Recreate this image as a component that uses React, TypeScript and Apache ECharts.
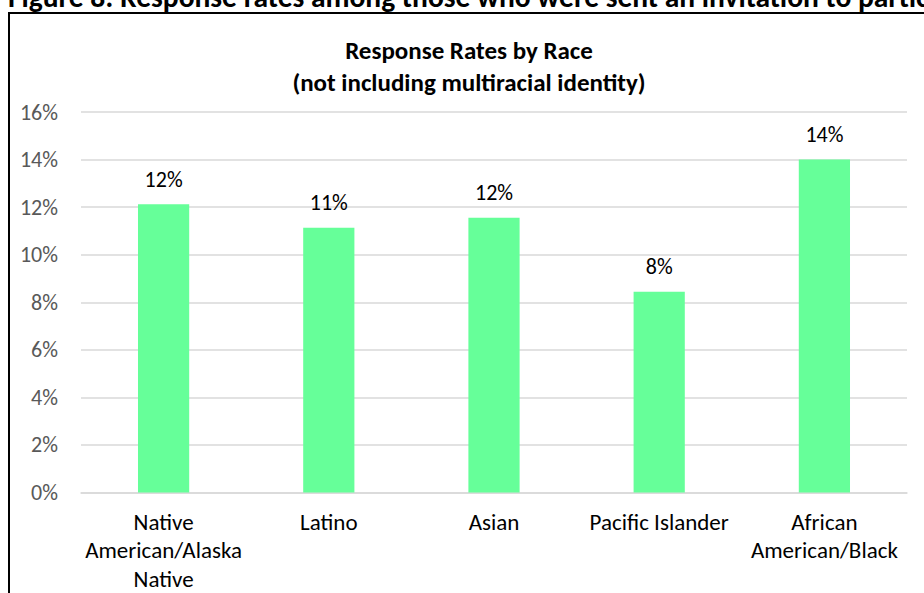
import React, { useEffect, useRef } from "react";
import * as echarts from "echarts";

const categories = [
  "Native\nAmerican/Alaska\nNative",
  "Latino",
  "Asian",
  "Pacific Islander",
  "African\nAmerican/Black",
];
const responseRates = [12.12, 11.13, 11.55, 8.44, 14.0];
const valueLabels = ["12%", "11%", "12%", "8%", "14%"];
const yTicks = [0, 2, 4, 6, 8, 10, 12, 14, 16];

const headerText =
  "Figure 8: Response rates among those who were sent an invitation to participate in the survey";
const titleLine1 = "Response Rates by Race";
const titleLine2 = "(not including multiracial identity)";

const FONT = "Carlito, Calibri, 'Liberation Sans Narrow', 'Open Sans', sans-serif";

export default function App() {
  const ref = useRef<HTMLDivElement>(null);
  useEffect(() => {
    if (!ref.current) return;
    const chart = echarts.init(ref.current, null, { renderer: "svg" });
    chart.setOption({
      animation: false,
      backgroundColor: "#ffffff",
      textStyle: { fontFamily: FONT },
      grid: { left: 81, right: 17, top: 112, bottom: 99, containLabel: false },
      graphic: [
        {
          type: "text",
          x: 8,
          y: -3,
          style: {
            text: headerText,
            font: `bold 29.5px ${FONT}`,
            fill: "#000",
            textVerticalAlign: "middle",
          },
        },
        {
          type: "rect",
          shape: { x: 9, y: 13, width: 960, height: 640 },
          style: { fill: "none", stroke: "#000", lineWidth: 2 },
        },
        {
          type: "text",
          x: 469,
          y: 50,
          style: {
            text: titleLine1,
            font: `bold 25px ${FONT}`,
            fill: "#000",
            textAlign: "center",
            textVerticalAlign: "middle",
          },
        },
        {
          type: "text",
          x: 469,
          y: 82,
          style: {
            text: titleLine2,
            font: `bold 25px ${FONT}`,
            fill: "#000",
            textAlign: "center",
            textVerticalAlign: "middle",
          },
        },
      ],
      xAxis: {
        type: "category",
        data: categories,
        axisLine: { show: true, lineStyle: { color: "#d9d9d9", width: 1.5 } },
        axisTick: { show: false },
        axisLabel: {
          interval: 0,
          color: "#000",
          fontSize: 23,
          lineHeight: 28.5,
          margin: 15,
          fontFamily: FONT,
        },
      },
      yAxis: {
        type: "value",
        min: yTicks[0],
        max: yTicks[yTicks.length - 1],
        interval: 2,
        axisLine: { show: false },
        axisTick: { show: false },
        splitLine: { lineStyle: { color: "#d9d9d9", width: 1.5 } },
        axisLabel: {
          color: "#595959",
          fontSize: 22,
          margin: 23,
          fontFamily: FONT,
          formatter: (v: number) => `${v}%`,
        },
      },
      series: [
        {
          type: "bar",
          data: responseRates,
          barWidth: "31%",
          itemStyle: { color: "#66ff99" },
          label: {
            show: true,
            position: "top",
            distance: 14,
            color: "#000",
            fontSize: 22,
            fontFamily: FONT,
            formatter: (p: any) => valueLabels[p.dataIndex],
          },
        },
      ],
    });
    return () => chart.dispose();
  }, []);
  return (
    <div
      ref={ref}
      style={{ position: "absolute", left: 0, top: 0, width: 924, height: 593 }}
    />
  );
}
